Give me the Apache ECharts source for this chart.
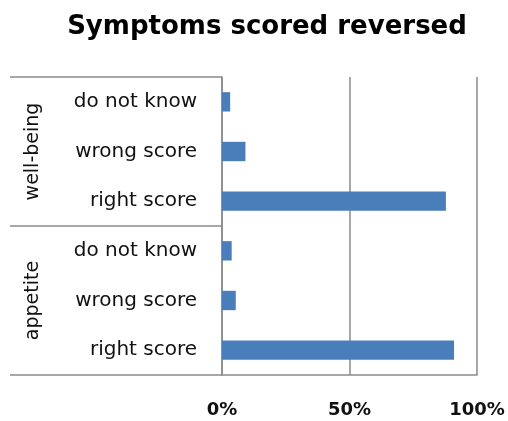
<!DOCTYPE html>
<html>
<head>
<meta charset="utf-8">
<script src="https://cdn.jsdelivr.net/npm/echarts@6/dist/echarts.min.js"></script>
<style>html,body{margin:0;padding:0;background:#fff}#c{width:508px;height:421px}</style>
</head>
<body>
<div id="c"></div>
<script>
var title = "Symptoms scored reversed";
var groups = ["well-being", "appetite"];
var answers = ["do not know", "wrong score", "right score"];
var wellBeing = [3.2, 9.2, 87.8];
var appetite = [3.8, 5.4, 91.0];
var xTicks = [0, 50, 100];

var categories = [];
var values = [];
groups.forEach(function (g, gi) {
  var vals = gi === 0 ? wellBeing : appetite;
  answers.forEach(function (a, ai) {
    categories.push(g + "|" + a);
    values.push(vals[ai]);
  });
});

var gray = "#8a8a8a";
var chart = echarts.init(document.getElementById("c"), null, {renderer: "canvas"});
var option = {
  animation: false,
  backgroundColor: "#fff",
  title: {
    text: title, left: 262, top: 9, textAlign: "center",
    textStyle: {fontFamily: "DejaVu Sans", fontWeight: "bold", fontSize: 26, color: "#000"}
  },
  grid: {left: 222, right: 31, top: 77, bottom: 46, containLabel: false},
  xAxis: {
    type: "value", min: xTicks[0], max: xTicks[xTicks.length - 1], interval: 50,
    axisLine: {show: true, lineStyle: {color: gray, width: 1.5}},
    axisTick: {show: false},
    splitLine: {show: true, lineStyle: {color: gray, width: 1.5}},
    axisLabel: {
      margin: 26, formatter: function (v) { return v + "%"; },
      fontFamily: "DejaVu Sans", fontWeight: "bold", fontSize: 18, color: "#111"
    }
  },
  yAxis: {
    type: "category", inverse: true, data: categories,
    axisLine: {show: true, lineStyle: {color: gray, width: 1.5}},
    axisTick: {show: false},
    axisLabel: {
      margin: 25, formatter: function (v) { return v.split("|")[1]; },
      fontFamily: "DejaVu Sans", fontSize: 20, color: "#111"
    }
  },
  series: [{
    type: "bar", data: values, barWidth: "39%",
    itemStyle: {color: "#4a7ebb"}
  }]
};
chart.setOption(option);

function drawBox() {
  var yOf = function (i) { return chart.convertToPixel({yAxisIndex: 0}, categories[i]); };
  var step = yOf(1) - yOf(0);
  var top = yOf(0) - step / 2;
  var mid = (yOf(2) + yOf(3)) / 2;
  var bottom = yOf(5) + step / 2;
  var axisX = chart.convertToPixel({xAxisIndex: 0}, 0);
  var leftX = 10;
  var ls = {stroke: gray, lineWidth: 1.5};
  var els = [top, mid, bottom].map(function (y) {
    return {type: "line", shape: {x1: leftX, y1: y, x2: axisX, y2: y}, style: ls, silent: true};
  });
  [[top, mid], [mid, bottom]].forEach(function (r, gi) {
    els.push({
      type: "text", x: 33, y: (r[0] + r[1]) / 2, rotation: Math.PI / 2,
      style: {text: groups[gi], fontFamily: "DejaVu Sans", fontSize: 19, fill: "#111",
              align: "center", verticalAlign: "middle"},
      silent: true
    });
  });
  chart.setOption({graphic: els});
}
drawBox();
</script>
</body>
</html>
